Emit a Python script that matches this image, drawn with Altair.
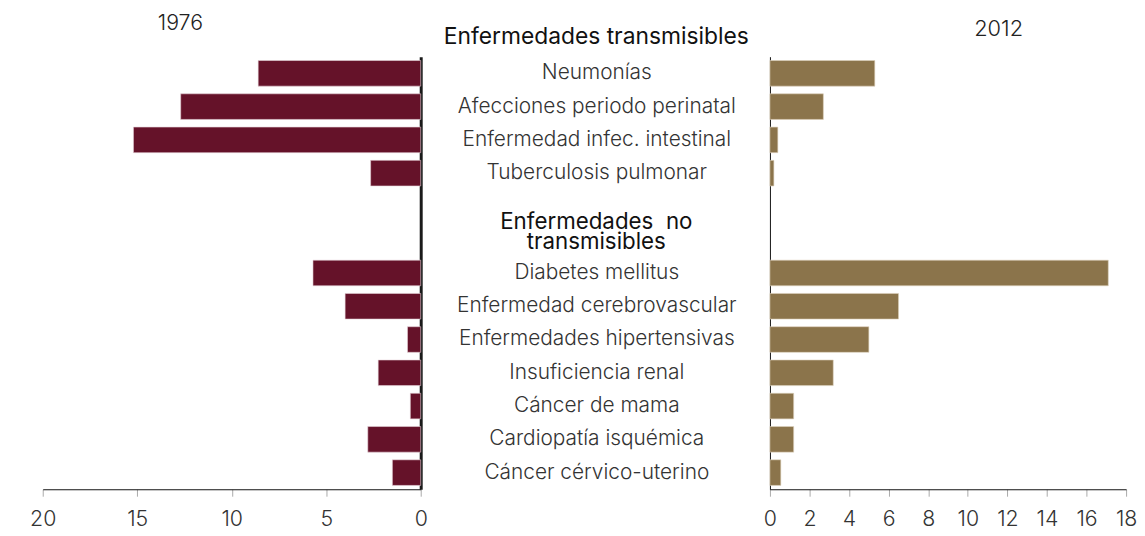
import altair as alt
import pandas as pd

categories = [
    "Neumonías", "Afecciones periodo perinatal", "Enfermedad infec. intestinal",
    "Tuberculosis pulmonar", "Diabetes mellitus", "Enfermedad cerebrovascular",
    "Enfermedades hipertensivas", "Insuficiencia renal", "Cáncer de mama",
    "Cardiopatía isquémica", "Cáncer cérvico-uterino",
]
v1976 = [8.6, 12.7, 15.2, 2.65, 5.7, 4.0, 0.7, 2.25, 0.55, 2.8, 1.5]
v2012 = [5.3, 2.7, 0.4, 0.2, 17.1, 6.5, 5.0, 3.2, 1.2, 1.2, 0.55]
header1 = "Enfermedades transmisibles"
header2 = ["Enfermedades\u00a0 no", "transmisibles"]
ticks_1976 = [0, 5, 10, 15, 20]
ticks_2012 = [0, 2, 4, 6, 8, 10, 12, 14, 16, 18]

blank_rows = [" ", "  "]
y_domain = categories[:4] + blank_rows + categories[4:]

df = pd.DataFrame({"cat": categories, "v1976": v1976, "v2012": v2012})
one_row = pd.DataFrame({"k": [0]})

FONT = "Inter"
H = 436
yscale = alt.Scale(domain=y_domain, paddingInner=0.23, paddingOuter=0.115)


def x_axis(values):
    return alt.Axis(values=values, title=None, grid=False, domainColor="#111",
                    tickColor="#aaaaaa", tickSize=7, labelFontSize=21.5,
                    labelColor="#333333", labelPadding=13, labelFont=FONT,
                    labelFontWeight=300, labelFlush=False)


left = alt.Chart(df).mark_bar(color="#651229", stroke="#e6d3d8", strokeWidth=0.6).encode(
    x=alt.X("v1976:Q", scale=alt.Scale(domain=[0, 20], reverse=True, nice=False),
            axis=x_axis(ticks_1976)),
    y=alt.Y("cat:N", scale=yscale, sort=y_domain,
            axis=alt.Axis(orient="right", labels=False, ticks=False, title=None,
                          domainWidth=3, domainColor="#1a1a1a")),
).properties(width=381, height=H,
             title=alt.TitleParams("1976", fontSize=21.5, font=FONT, fontWeight=300,
                                   color="#222222", anchor="middle", frame="group",
                                   dx=-51.7, baseline="alphabetic", offset=5.6))

mid_labels = alt.Chart(df).mark_text(fontSize=21, font=FONT, fontWeight=300,
                                     color="#333333", align="center").encode(
    x=alt.value(176),
    y=alt.Y("cat:N", scale=yscale, sort=y_domain, axis=None),
    text="cat:N",
)
mid_header = alt.Chart(one_row).mark_text(text=header2, fontSize=22.5, font=FONT,
                                          fontWeight=400, color="#111111", align="center",
                                          baseline="alphabetic", lineHeight=20, dy=23).encode(
    x=alt.value(175.5),
    y=alt.Y(datum=blank_rows[0], type="nominal", scale=yscale, axis=None),
)
middle = alt.layer(mid_labels, mid_header).properties(
    width=349, height=H,
    title=alt.TitleParams(header1, fontSize=23, font=FONT, fontWeight=400,
                          color="#111111", anchor="middle", frame="group", dx=1,
                          baseline="alphabetic", offset=-10))

right = alt.Chart(df).mark_bar(color="#8b744b", stroke="#ddd2bd", strokeWidth=0.6).encode(
    x=alt.X("v2012:Q", scale=alt.Scale(domain=[0, 18], nice=False),
            axis=x_axis(ticks_2012)),
    y=alt.Y("cat:N", scale=yscale, sort=y_domain,
            axis=alt.Axis(orient="left", labels=False, ticks=False, title=None,
                          domainWidth=1, domainColor="#111")),
).properties(width=359, height=H,
             title=alt.TitleParams("2012", fontSize=22, font=FONT, fontWeight=300,
                                   color="#222222", anchor="middle", frame="group",
                                   dx=51, baseline="alphabetic", offset=-1.6))

chart = alt.hconcat(left, middle, right, spacing=1.5, bounds="flush").resolve_scale(
    x="independent", y="shared"
).properties(
    padding={"left": 21, "top": 2, "right": 0, "bottom": 0}
).configure_view(stroke=None)

chart.save("out.html", embed_options={"renderer": "svg", "actions": False})
